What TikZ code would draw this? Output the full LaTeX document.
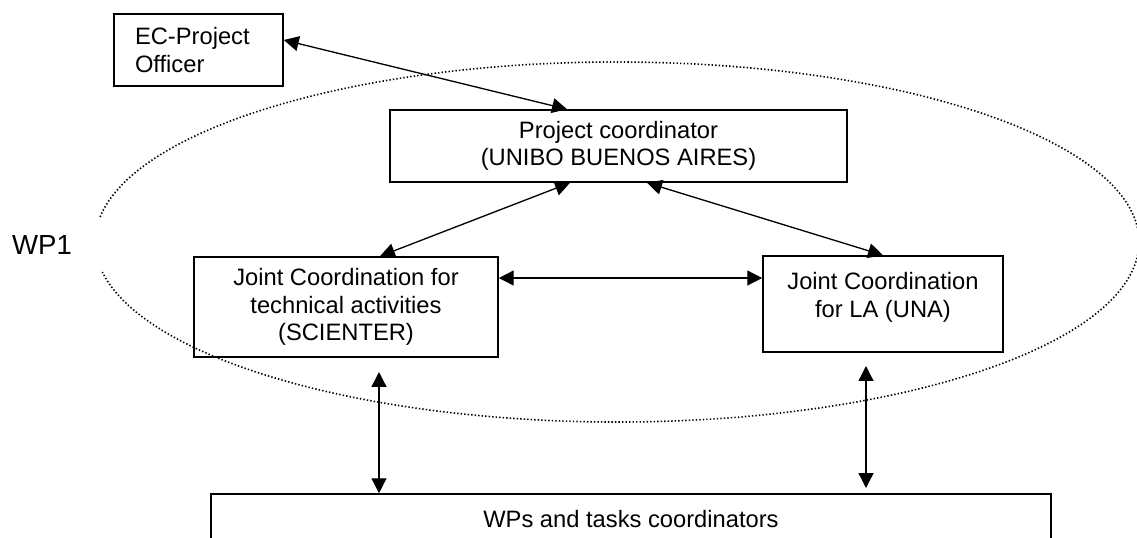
\documentclass[tikz,border=0pt]{standalone}
\usepackage{fontspec}
\setmainfont{Liberation Sans}
\usetikzlibrary{arrows.meta}

\begin{document}
\begin{tikzpicture}[x=0.02cm,y=-0.02cm,
  box/.style={draw=black, line width=0.9pt, rectangle, align=center, inner sep=0pt,
    font=\fontsize{13.5pt}{15.6pt}\selectfont},
  link/.style={line width=0.75pt,
    {Triangle[length=8.5pt,width=8.5pt]}-{Triangle[length=8.5pt,width=8.5pt]}},
  wpring/.style={line width=0.9pt, dash pattern=on 0.8pt off 1.2pt}]
\useasboundingbox (0,0) rectangle (1137,538);
%% WP1 ring, open on the left next to its label
\draw[wpring] (617,242) ++(188:522 and 180)
  arc[start angle=188, end angle=530.4, x radius=522, y radius=180];
\node[font=\fontsize{15.7pt}{18pt}\selectfont, inner sep=0pt] (wpone) at (42,245) {WP1};

%% boxes
\node[box, minimum width=3.38cm, minimum height=1.44cm, text width=2.54cm, align=left]
  (ec) at (198.5,50) {EC-Project\\Officer};
\node[box, minimum width=9.14cm, minimum height=1.44cm]
  (pc) at (618.5,146) {Project coordinator\\(UNIBO BUENOS AIRES)};
\node[box, minimum width=6.08cm, minimum height=2cm]
  (jl) at (346,307) {Joint Coordination for\\technical activities\\(SCIENTER)};
\node[box, minimum width=4.8cm, minimum height=1.92cm, text depth=0.36cm]
  (jr) at (883,304) {Joint Coordination\\for LA (UNA)};
\node[box, minimum width=16.8cm, minimum height=1cm]
  (wp) at (631,519) {WPs and tasks coordinators};

%% links
\draw[link] ([yshift=0.2cm]ec.east) -- ([xshift=-1.03cm]pc.north);
\draw[link] ([xshift=-0.97cm]pc.south) -- ([xshift=0.68cm]jl.north);
\draw[link] ([xshift=0.57cm]pc.south) -- (jr.north);
\coordinate (mid) at ([yshift=0.58cm]jl.east);
\draw[link] (mid) -- (mid -| jr.west);
\coordinate (lt) at (379,372);
\draw[link] (lt) -- (lt |- wp.north);
\coordinate (rt) at (866,366);
\coordinate (rb) at (866,488);
\draw[link] (rt) -- (rb);

\end{tikzpicture}
\end{document}
